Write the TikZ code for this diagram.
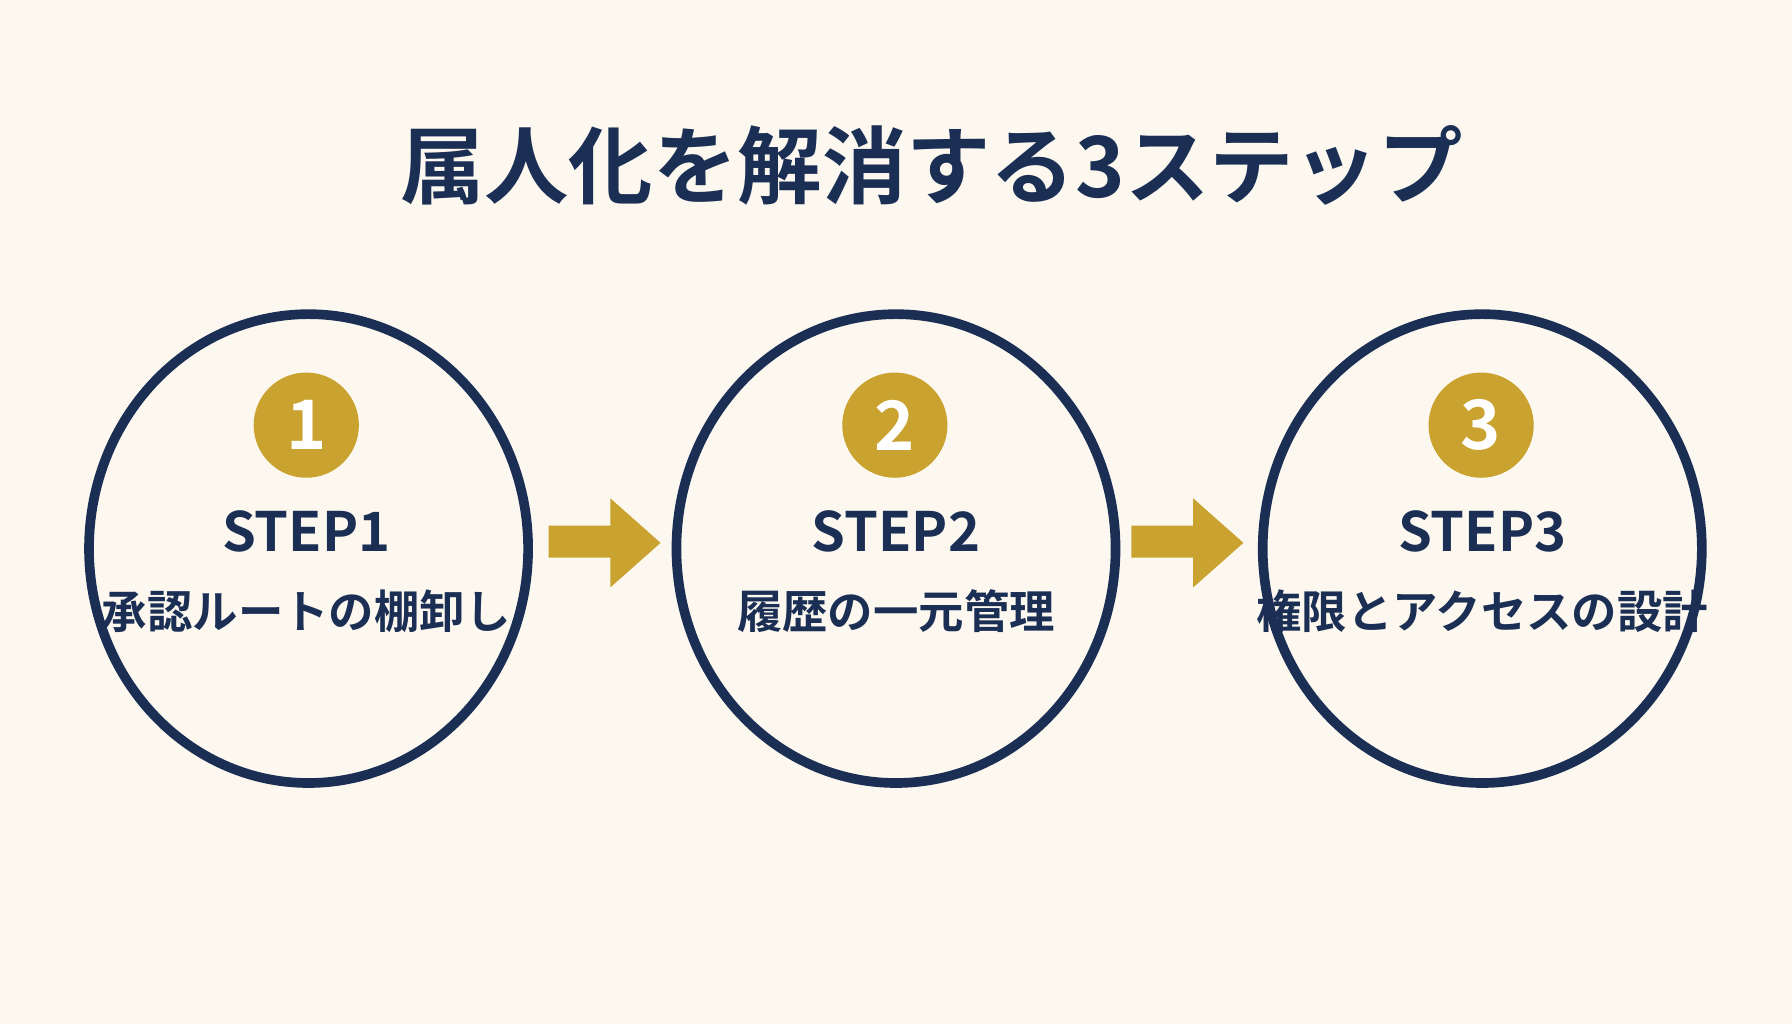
\documentclass[tikz,border=0pt]{standalone}
\usepackage{fontspec}
\setmainfont{Noto Sans CJK JP}[BoldFont={* Bold}]
\usetikzlibrary{calc}
\definecolor{navy}{HTML}{1B2F55}
\definecolor{gold}{HTML}{C9A22F}
\definecolor{paper}{HTML}{FCF8F0}
\tikzset{
	stepstyle/.style={ellipse,draw=navy,line width=2.4pt,fill=paper,minimum width=3.84cm,minimum height=4.1cm},
	badgestyle/.style={circle,fill=gold,text=white,minimum size=0.92cm,inner sep=0pt,font=\bfseries\fontsize{17}{17}\selectfont},
	labelstyle/.style={text=navy,font=\bfseries\fontsize{13.5}{14}\selectfont},
	namestyle/.style={text=navy,font=\bfseries\fontsize{11.3}{12}\selectfont},
	arrowstyle/.style={fill=gold}
}
\usetikzlibrary{shapes.geometric}
\begin{document}
\begin{tikzpicture}[x=0.01cm,y=-0.01cm]
	\fill[paper] (0,0) rectangle (1568,896);
	\node[text=navy,font=\bfseries\fontsize{21}{22}\selectfont] (title) at (815,145) {属人化を解消する3ステップ};
	\node[stepstyle] (c1) at (270,480) {};
	\node[stepstyle] (c2) at (784,480) {};
	\node[stepstyle] (c3) at (1297,480) {};
	\node[badgestyle] (b1) at (268,372) {1};
	\node[badgestyle] (b2) at (783,372) {2};
	\node[badgestyle] (b3) at (1296,372) {3};
	\node[labelstyle] (s1) at (268,465) {STEP1};
	\node[labelstyle] (s2) at (784,465) {STEP2};
	\node[labelstyle] (s3) at (1297,465) {STEP3};
	\node[namestyle] (n1) at (268,535) {承認ルートの棚卸し};
	\node[namestyle] (n2) at (784,535) {履歴の一元管理};
	\node[namestyle] (n3) at (1297,535) {権限とアクセスの設計};
	% arrows between steps
	\foreach \x in {480,990}{
		\fill[arrowstyle] (\x,460) -- (\x+54,460) -- (\x+54,436) -- (\x+98,475) -- (\x+54,514) -- (\x+54,488) -- (\x,488) -- cycle;
	}
\end{tikzpicture}
\end{document}
